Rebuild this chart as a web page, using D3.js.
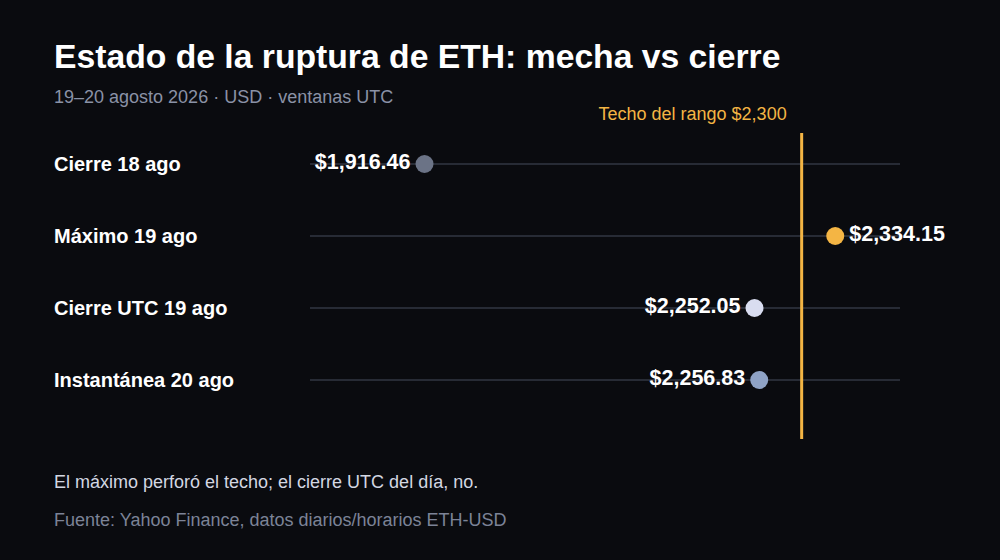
<!DOCTYPE html>
<html lang="es">
<head>
<meta charset="UTF-8">
<title>Estado de la ruptura de ETH</title>
<script src="https://d3js.org/d3.v7.min.js"></script>
<style>
  body { margin: 0; background: #0a0b0f; }
  text { font-family: "Liberation Sans", Arial, sans-serif; }
</style>
</head>
<body>
<script>
  const width = 1000;
  const height = 560;

  const labels = ["Cierre 18 ago", "Máximo 19 ago", "Cierre UTC 19 ago", "Instantánea 20 ago"];
  const prices = [1916.46, 2334.15, 2252.05, 2256.83];
  const dotColors = ["#6b7386", "#f4b544", "#d9ddf0", "#8fa3c6"];
  const ceiling = 2300;

  const data = labels.map((l, i) => ({label: l, price: prices[i], color: dotColors[i]}));

  const x = d3.scaleLinear().domain([1800, 2400]).range([310, 900]);
  const y = d3.scalePoint().domain(labels).range([164, 380]);
  const fmt = d3.format("$,.2f");

  const svg = d3.select("body").append("svg")
      .attr("width", width)
      .attr("height", height);

  svg.append("rect").attr("width", width).attr("height", height).attr("fill", "#0a0b0f");

  svg.append("text")
      .attr("x", 54).attr("y", 68)
      .attr("fill", "#ffffff")
      .style("font-size", "33.7px").style("font-weight", "bold")
      .text("Estado de la ruptura de ETH: mecha vs cierre");

  svg.append("text")
      .attr("x", 54).attr("y", 103)
      .attr("fill", "#8a92a6")
      .style("font-size", "18px")
      .text("19–20 agosto 2026 · USD · ventanas UTC");

  // guide lines per row
  svg.selectAll(".grid")
      .data(data)
      .enter().append("line")
      .attr("x1", x.range()[0]).attr("x2", x.range()[1])
      .attr("y1", d => y(d.label)).attr("y2", d => y(d.label))
      .attr("stroke", "#272b35")
      .attr("stroke-width", 2);

  // ceiling line
  svg.append("line")
      .attr("x1", x(ceiling)).attr("x2", x(ceiling))
      .attr("y1", 133).attr("y2", 439)
      .attr("stroke", "#f4b544")
      .attr("stroke-width", 3);

  svg.append("text")
      .attr("x", x(ceiling) - 15).attr("y", 120)
      .attr("text-anchor", "end")
      .attr("fill", "#f4b544")
      .style("font-size", "18px")
      .text("Techo del rango $2,300");

  svg.selectAll(".rowlabel")
      .data(data)
      .enter().append("text")
      .attr("x", 54).attr("y", d => y(d.label))
      .attr("dy", "0.35em")
      .attr("fill", "#ffffff")
      .style("font-size", "20px").style("font-weight", "bold")
      .text(d => d.label);

  svg.selectAll(".dot")
      .data(data)
      .enter().append("circle")
      .attr("cx", d => x(d.price)).attr("cy", d => y(d.label))
      .attr("r", 9)
      .attr("fill", d => d.color);

  svg.selectAll(".value")
      .data(data)
      .enter().append("text")
      .attr("x", d => d.price > ceiling ? x(d.price) + 14 : x(d.price) - 14)
      .attr("y", d => y(d.label))
      .attr("dy", "0.25em")
      .attr("text-anchor", d => d.price > ceiling ? "start" : "end")
      .attr("fill", "#ffffff")
      .style("font-size", "21.5px").style("font-weight", "bold")
      .text(d => fmt(d.price));

  svg.append("text")
      .attr("x", 54).attr("y", 488)
      .attr("fill", "#d3d7e2")
      .style("font-size", "18px")
      .text("El máximo perforó el techo; el cierre UTC del día, no.");

  svg.append("text")
      .attr("x", 54).attr("y", 526)
      .attr("fill", "#7c8397")
      .style("font-size", "18px")
      .text("Fuente: Yahoo Finance, datos diarios/horarios ETH-USD");
</script>
</body>
</html>
